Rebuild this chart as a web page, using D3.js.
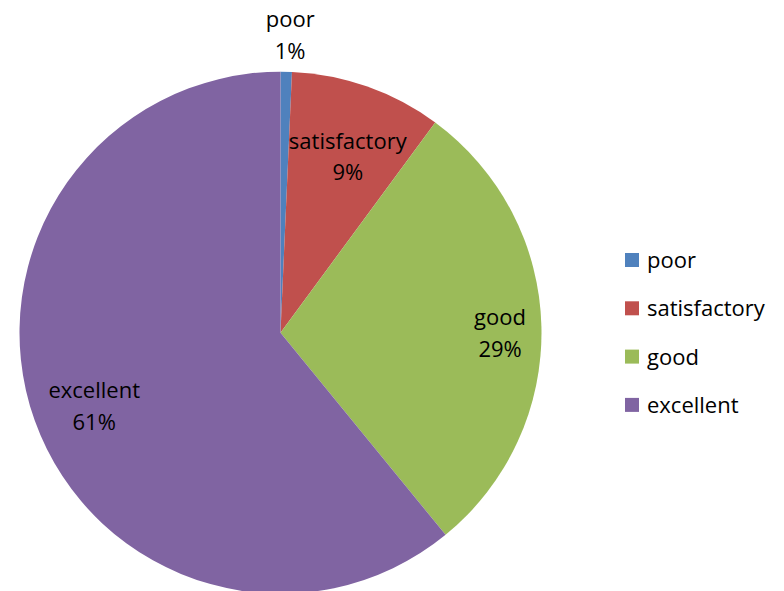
<!DOCTYPE html>
<html>
<head>
<meta charset="utf-8">
<script src="https://cdn.jsdelivr.net/npm/d3@7"></script>
<style>
  html, body { margin: 0; padding: 0; background: #fff; }
  svg { display: block; }
  text { font-family: "Open Sans", "Noto Sans", sans-serif; fill: #000; }
</style>
</head>
<body>
<svg id="chart" width="784" height="591"></svg>
<script>
// Ratings share (percent)
const categories = ["poor", "satisfactory", "good", "excellent"];
const shares = [0.7, 9.4, 29.0, 60.9];
const colors = ["#4F81BD", "#C0504D", "#9BBB59", "#8064A2"];

// radial position of each slice label, as a fraction of the radius
const labelRadius = [1.162, 0.74, 0.83, 0.77];

const W = 784, H = 591;
const cx = 280.5, cy = 332.7, R = 261;
const fontSize = 22;

const svg = d3.select("#chart");
const data = categories.map((c, i) => ({ name: c, value: shares[i], color: colors[i], lr: labelRadius[i] }));
const total = d3.sum(shares);

const pie = d3.pie().value(d => d.value).sort(null);
const arc = d3.arc().innerRadius(0).outerRadius(R);
const arcs = pie(data);

const g = svg.append("g").attr("transform", `translate(${cx},${cy})`);

g.selectAll("path.slice")
  .data(arcs)
  .join("path")
  .attr("class", "slice")
  .attr("d", arc)
  .attr("fill", d => d.data.color);

const pct = d3.format(".0%");

const labels = g.selectAll("g.lbl")
  .data(arcs)
  .join("g")
  .attr("class", "lbl")
  .attr("transform", d => {
    const r = R * d.data.lr;
    const a = (d.startAngle + d.endAngle) / 2;
    return `translate(${r * Math.sin(a) + 3},${-r * Math.cos(a) + 5})`;
  });

labels.append("text")
  .attr("text-anchor", "middle")
  .attr("y", -7)
  .style("font-size", fontSize + "px")
  .text(d => d.data.name);

labels.append("text")
  .attr("text-anchor", "middle")
  .attr("y", 24.5)
  .style("font-size", fontSize + "px")
  .text(d => pct(d.data.value / total));

// Legend
const legendX = 625, legendY = 253, legendStep = 48.3, sw = 14;
const legend = svg.append("g")
  .selectAll("g")
  .data(data)
  .join("g")
  .attr("transform", (d, i) => `translate(${legendX},${legendY + i * legendStep})`);

legend.append("rect")
  .attr("width", sw)
  .attr("height", sw)
  .attr("fill", d => d.color);

legend.append("text")
  .attr("x", 22)
  .attr("y", sw + 1)
  .style("font-size", fontSize + "px")
  .text(d => d.name);
</script>
</body>
</html>
